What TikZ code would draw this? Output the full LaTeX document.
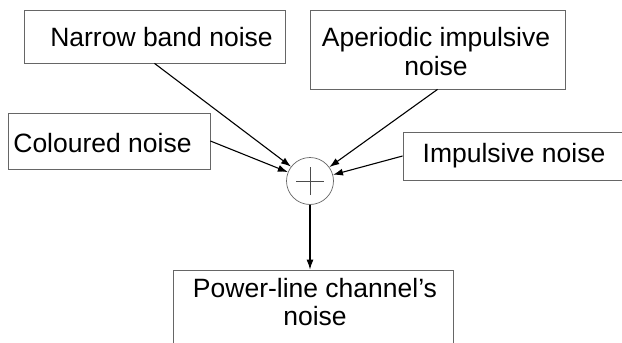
\documentclass[tikz,border=0pt]{standalone}
\usepackage{fontspec}
\setmainfont{Liberation Sans}
\usetikzlibrary{arrows.meta}
\begin{document}
\begin{tikzpicture}[x=1pt,y=-1pt,
  box/.style={draw=black!60,line width=0.8pt,rectangle,inner sep=0pt},
  lbl/.style={font=\fontsize{26.5}{29}\selectfont,inner sep=0pt,anchor=base},
  arr/.style={line width=1.1pt,-{Latex[length=10pt,width=7pt]}},
  sum/.style={draw=black!60,line width=0.7pt,circle,minimum size=47pt,inner sep=0pt}]
\useasboundingbox (0,0) rectangle (622,343);
\clip (0,0) rectangle (622,343);
% boxes
\node[box,minimum width=261pt,minimum height=53pt] (nb) at (154.5,36.5) {};
\node[box,minimum width=255pt,minimum height=79pt] (ap) at (437.5,49.5) {};
\node[box,minimum width=202pt,minimum height=56pt] (col) at (109,141) {};
\node[box,minimum width=240pt,minimum height=48pt] (imp) at (523,156) {};
\node[box,minimum width=280pt,minimum height=100pt] (pl) at (313,320) {};
% texts
\node[lbl] (tnb) at (161.5,46) {Narrow band noise};
\node[lbl] (tap1) at (436,46) {Aperiodic impulsive};
\node[lbl] (tap2) at (436,75) {noise};
\node[lbl] (tcol) at (102.5,152) {Coloured noise};
\node[lbl] (timp) at (514,162) {Impulsive noise};
\node[lbl] (tpl1) at (315,297) {Power-line channel’s};
\node[lbl] (tpl2) at (315,325) {noise};
% summing junction
\node[sum] (c) at (310,181) {};
\draw[black!70,line width=0.6pt] ([xshift=-14pt]c.center) -- ([xshift=14pt]c.center)
  ([yshift=-14pt]c.center) -- ([yshift=14pt]c.center);
% connectors
\draw[arr] (nb.south) -- (c);
\draw[arr] (ap.south) -- (c);
\draw[arr] (col.east) -- (c);
\draw[arr] (imp.west) -- (c);
\draw[arr] (c.south) -- (pl.north -| c.south);
\end{tikzpicture}
\end{document}
